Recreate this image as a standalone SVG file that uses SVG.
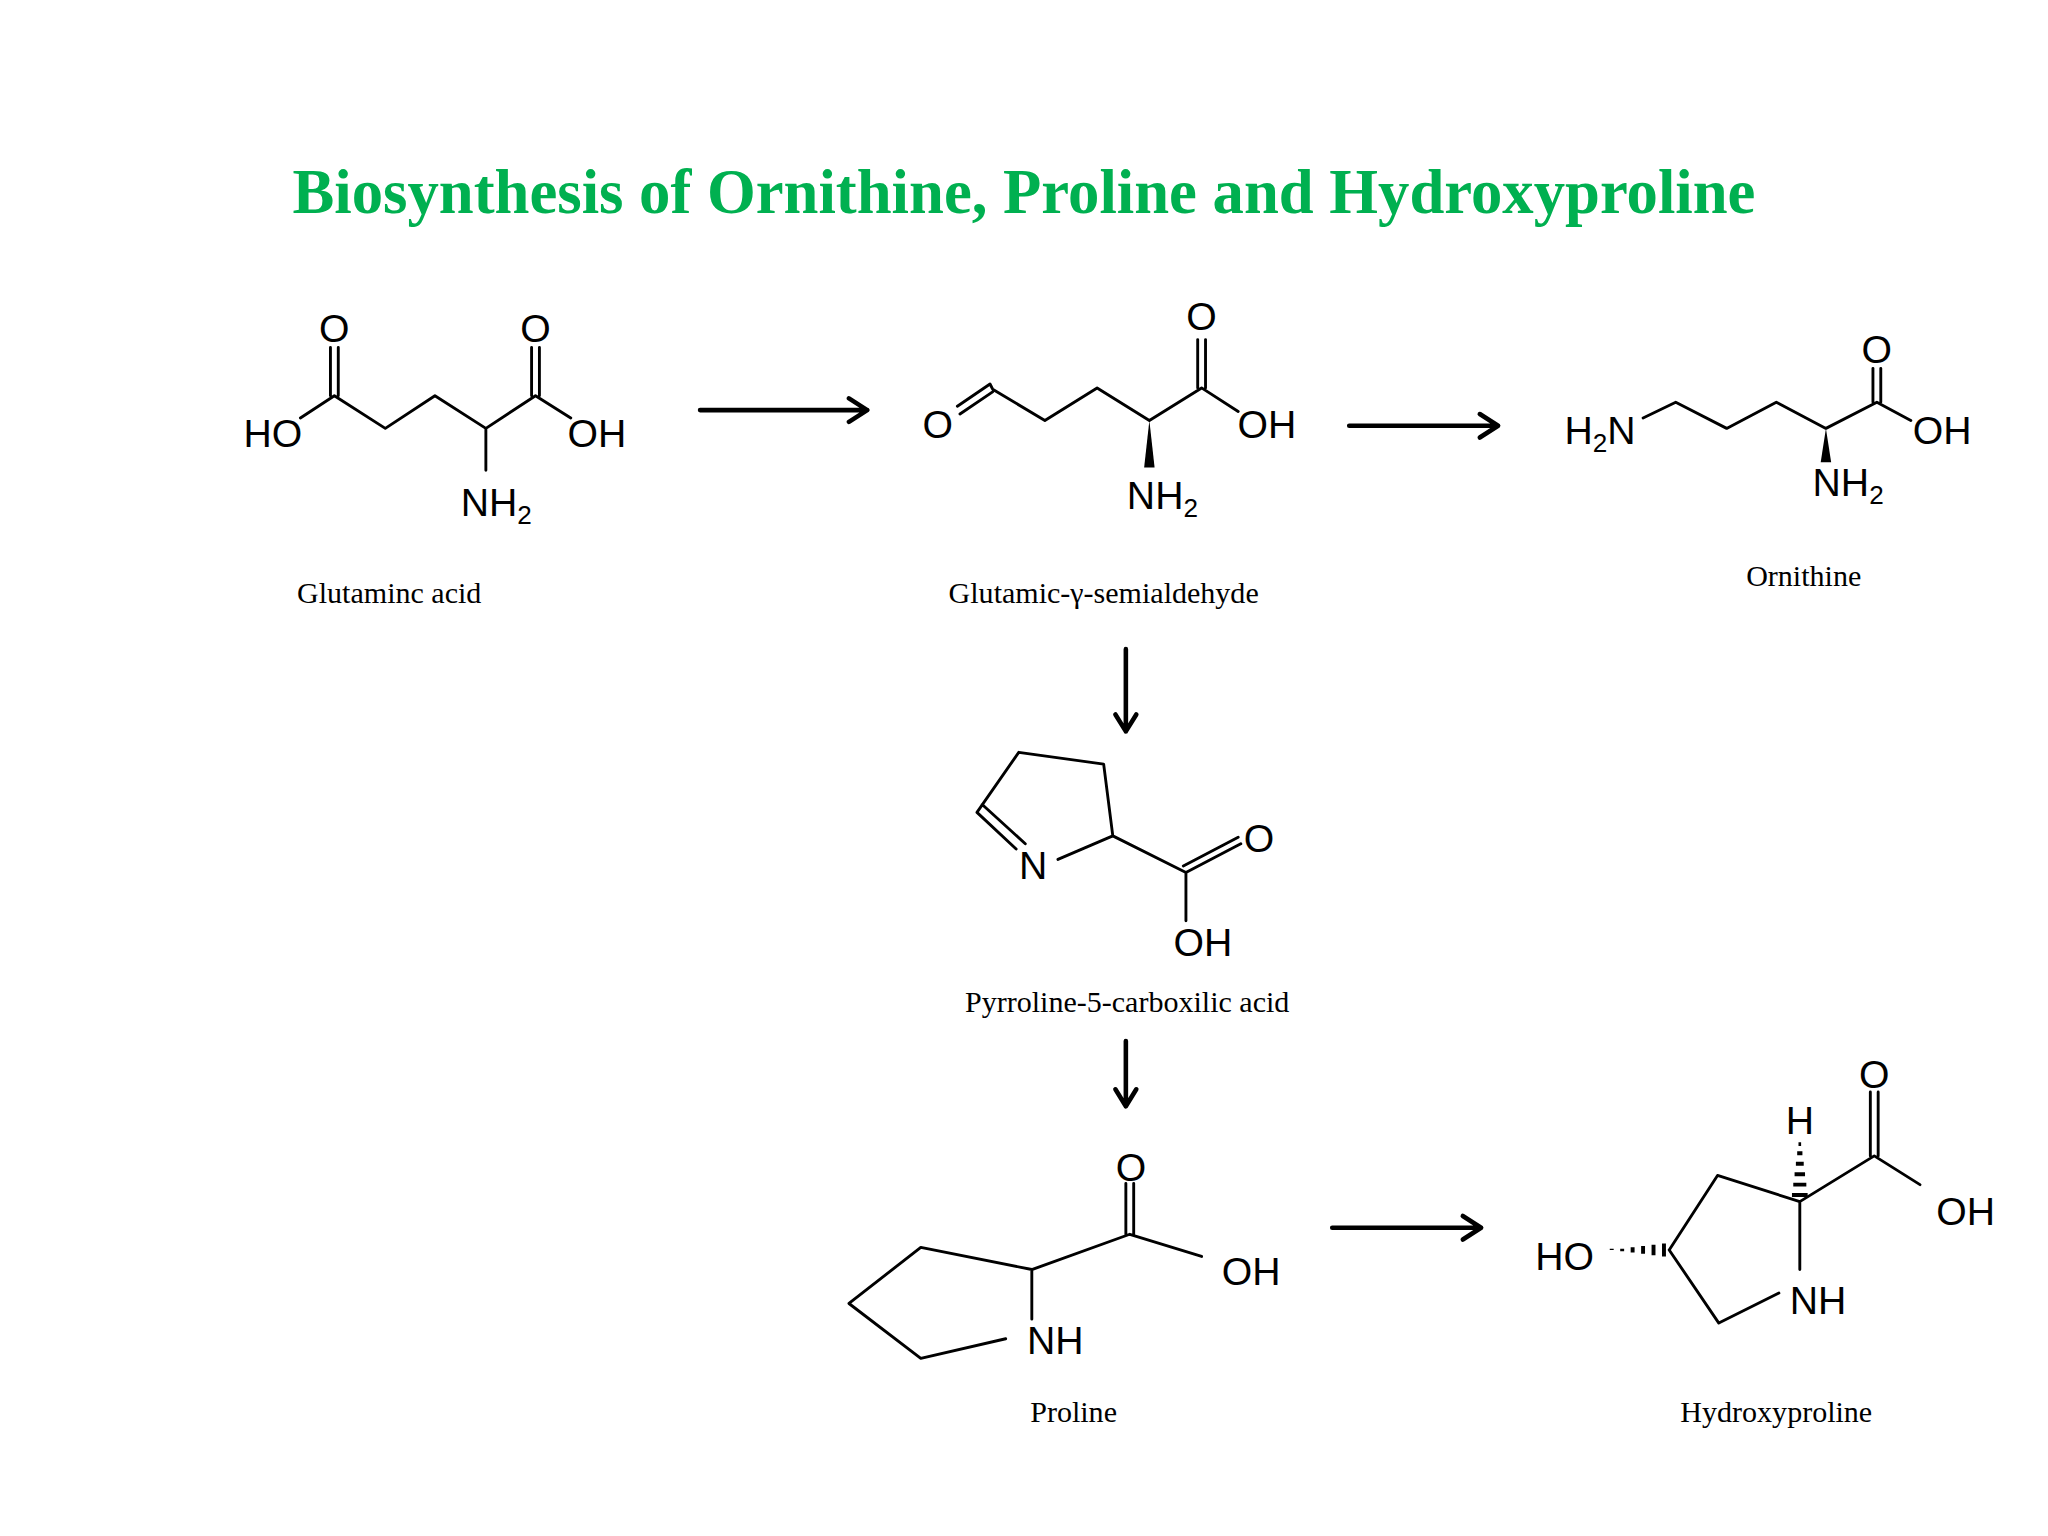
<svg xmlns="http://www.w3.org/2000/svg" width="2048" height="1536" viewBox="0 0 2048 1536">
<style>
.b{stroke:#000;stroke-width:2.2;fill:none;stroke-linecap:round;stroke-linejoin:round}
.a{stroke:#000;stroke-width:3.5;fill:none;stroke-linecap:round;stroke-linejoin:round}
.t{font-family:"Liberation Sans",Arial,sans-serif;font-size:30px;fill:#000;text-anchor:middle}
.s{font-size:20px}
.l{font-family:"Liberation Serif","Times New Roman",serif;font-size:23px;fill:#000;text-anchor:middle}
</style>
<rect width="2048" height="1536" fill="#fff"/>
<g transform="scale(1.3061)">
<text x="784" y="163" font-family="Liberation Serif,serif" font-weight="bold" font-size="48" fill="#00b050" text-anchor="middle">Biosynthesis of Ornithine, Proline and Hydroxyproline</text>

<g id="glutamic">
<path class="b" d="M230 320 L256 303 L295 328 L333 303 L372 328 L410 303 L437 320 M372 328 L372 360 M253 303 V266 M259 303 V266 M407 303 V266 M413 303 V266"/>
<text class="t" x="209" y="342">HO</text>
<text class="t" x="256" y="262">O</text>
<text class="t" x="410" y="262">O</text>
<text class="t" x="457" y="342">OH</text>
<text class="t" x="380" y="395">NH<tspan class="s" dy="6">2</tspan></text>
<text class="l" x="298" y="462">Glutaminc acid</text>
</g>

<g id="semialdehyde">
<path class="b" d="M735 317 L760 300 M733 311 L758 294 L760 298 L800 322 L840 297 L880 322 L920 297 L948 315 M917 297 V260 M923 297 V260"/>
<path d="M880 322 L876 358 L884 358 Z" fill="#000"/>
<text class="t" x="718" y="335">O</text>
<text class="t" x="920" y="253">O</text>
<text class="t" x="970" y="335">OH</text>
<text class="t" x="890" y="390">NH<tspan class="s" dy="6">2</tspan></text>
<text class="l" x="845" y="462">Glutamic-γ-semialdehyde</text>
</g>

<g id="ornithine">
<path class="b" d="M1258 320 L1283 308 L1322 328 L1360 308 L1398 328 L1437 308 L1463 322 M1434 308 V282 M1440 308 V282"/>
<path d="M1398 328 L1394 354 L1402 354 Z" fill="#000"/>
<text class="t" x="1225" y="340">H<tspan class="s" dy="6">2</tspan><tspan dy="-6">N</tspan></text>
<text class="t" x="1437" y="278">O</text>
<text class="t" x="1487" y="340">OH</text>
<text class="t" x="1415" y="380">NH<tspan class="s" dy="6">2</tspan></text>
<text class="l" x="1381" y="449">Ornithine</text>
</g>

<g id="pyrroline">
<path class="b" d="M778 650 L748 622 L780 576 L845 585 L852 640 L810 658 M752 616 L785 646 M852 640 L908 668 L950 646 M906 663 L948 641 M908 668 L908 705"/>
<text class="t" x="791" y="673">N</text>
<text class="t" x="964" y="652">O</text>
<text class="t" x="921" y="732">OH</text>
<text class="l" x="863" y="775">Pyrroline-5-carboxilic acid</text>
</g>

<g id="proline">
<path class="b" d="M770 1025 L705 1040 L650 998 L705 955 L790 972 L790 1010 M790 972 L865 945 L920 962 M862 945 V906 M868 945 V906" stroke-width="2.6"/>
<text class="t" x="808" y="1037" font-size="34">NH</text>
<text class="t" x="866" y="904" font-size="34">O</text>
<text class="t" x="958" y="984" font-size="34">OH</text>
<text class="l" x="822" y="1089">Proline</text>
</g>

<g id="hydroxyproline">
<path class="b" d="M1278 957 L1315 900 L1378 920 L1378 972 M1362 990 L1316 1013 L1278 957 M1378 920 L1435 885 L1470 907 M1432 885 V836 M1438 885 V836" stroke-width="2.6"/>
<path stroke="#000" stroke-width="3" d="M1372 915 h12 M1373 907 h10 M1374 899 h8 M1375 891 h6 M1376 883 h4 M1377 876 h2 M1274 952 v10 M1266 953 v8 M1258 954 v6 M1250 955 v4 M1242 956 v2 M1234 956 v1"/>
<text class="t" x="1198" y="972" font-size="36">HO</text>
<text class="t" x="1392" y="1006" font-size="36">NH</text>
<text class="t" x="1378" y="868" font-size="36">H</text>
<text class="t" x="1435" y="833" font-size="36">O</text>
<text class="t" x="1505" y="938" font-size="36">OH</text>
<text class="l" x="1360" y="1089">Hydroxyproline</text>
</g>

<g id="connectors">
<path class="a" d="M536 314 H664 M650 305 L664 314 L650 323"/>
<path class="a" d="M1033 326 H1147 M1133 317 L1147 326 L1133 335"/>
<path class="a" d="M862 497 V560 M854 547 L862 560 L870 547"/>
<path class="a" d="M862 797 V847 M854 834 L862 847 L870 834"/>
<path class="a" d="M1020 940 H1134 M1120 931 L1134 940 L1120 949"/>
</g>
</g>
</svg>
